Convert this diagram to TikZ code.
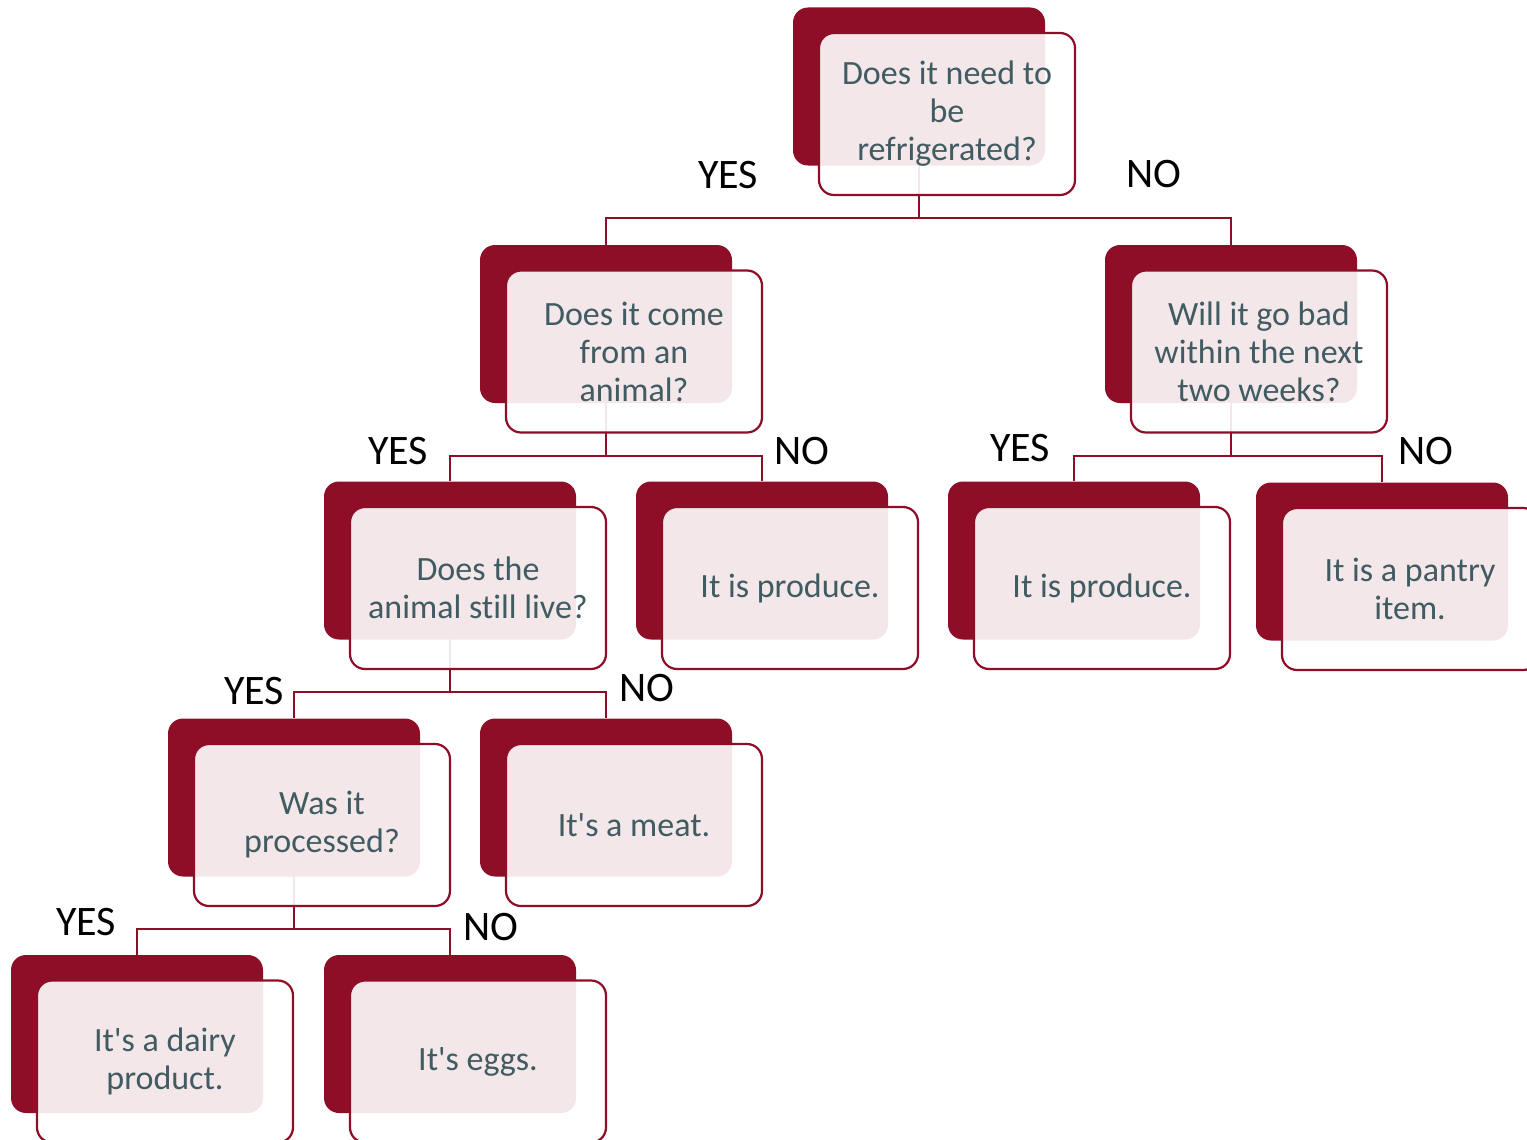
\documentclass[tikz,border=0pt]{standalone}
\usepackage{fontspec}
\setmainfont{Carlito}[Ligatures={TeXOff,NoCommon}]
\definecolor{dred}{RGB}{142,13,39}
\definecolor{txt}{RGB}{64,91,97}
\tikzset{
  x=1pt, y=-1pt,
  backbox/.style={rectangle, rounded corners=15pt, fill=dred, draw=none,
    minimum width=252pt, minimum height=158pt, inner sep=0pt},
  frontbox/.style={rectangle, rounded corners=15pt, fill=white, fill opacity=0.9,
    text opacity=1, draw=dred, line width=2.2pt, minimum width=256pt,
    minimum height=162pt, inner sep=0pt, align=center, text=txt,
    font=\fontsize{34}{38}\selectfont},
  conn/.style={draw=dred, line width=2.4pt},
  lab/.style={anchor=base, inner sep=0pt, text=black, font=\fontsize{42}{50}\selectfont},
}
\newcommand\treebox[4]{%
  \node[backbox] (#1) at (#2,#3) {};
  \node[frontbox] (#1f) at ([xshift=28pt,yshift=-27.5pt]#1.center) {#4};
}
\begin{document}
\begin{tikzpicture}
\clip (0,0) rectangle (1527,1140);
\fill[white] (0,0) rectangle (1527,1140);
% bar levels
\coordinate (l1) at (0,218);
\coordinate (l2) at (0,456);
\coordinate (l3) at (0,692);
\coordinate (l4) at (0,929);
% invisible anchors for connectors (drawn first)
\node[backbox, fill=none] (root0) at (919,86.5) {};
\node[backbox, fill=none] (a0) at (606,324) {};
\node[backbox, fill=none] (b0) at (1231,324) {};
\node[backbox, fill=none] (c0) at (450,560.5) {};
\node[backbox, fill=none] (d0) at (762,560.5) {};
\node[backbox, fill=none] (e0) at (1074,560.5) {};
\node[backbox, fill=none] (f0) at (1382,561.5) {};
\node[backbox, fill=none] (g0) at (294,797.5) {};
\node[backbox, fill=none] (h0) at (606,797.5) {};
\node[backbox, fill=none] (i0) at (137,1034) {};
\node[backbox, fill=none] (j0) at (450,1034) {};
% connectors
\draw[conn] (root0.center) -- (root0.center |- l1) -| (a0.north);
\draw[conn] (root0.center |- l1) -| (b0.north);
\draw[conn] (a0.center) -- (a0.center |- l2) -| (c0.north);
\draw[conn] (a0.center |- l2) -| (d0.north);
\draw[conn] (b0.center) -- (b0.center |- l2) -| (e0.north);
\draw[conn] (b0.center |- l2) -| (f0.north);
\draw[conn] (c0.center) -- (c0.center |- l3) -| (g0.north);
\draw[conn] (c0.center |- l3) -| (h0.north);
\draw[conn] (g0.center) -- (g0.center |- l4) -| (i0.north);
\draw[conn] (g0.center |- l4) -| (j0.north);
% boxes
\treebox{root}{919}{86.5}{Does it need to\\be\\refrigerated?}
\treebox{a}{606}{324}{Does it come\\from an\\animal?}
\treebox{b}{1231}{324}{Will it go bad\\within the next\\two weeks?}
\treebox{c}{450}{560.5}{Does the\\animal still live?}
\treebox{d}{762}{560.5}{It is produce.}
\treebox{e}{1074}{560.5}{It is produce.}
\treebox{f}{1382}{561.5}{It is a pantry\\item.}
\treebox{g}{294}{797.5}{Was it\\processed?}
\treebox{h}{606}{797.5}{It's a meat.}
\treebox{i}{137}{1034}{It's a dairy\\product.}
\treebox{j}{450}{1034}{It's eggs.}
% labels
\node[lab] (y1) at (728,188) {YES};
\node[lab] (n1) at (1154,187) {NO};
\node[lab] (y2) at (398,464) {YES};
\node[lab] (n2) at (802,464) {NO};
\node[lab] (y3) at (1020,461) {YES};
\node[lab] (n3) at (1426,464) {NO};
\node[lab] (y4) at (254,704) {YES};
\node[lab] (n4) at (647,701) {NO};
\node[lab] (y5) at (86,935) {YES};
\node[lab] (n5) at (491,940) {NO};
\end{tikzpicture}
\end{document}
